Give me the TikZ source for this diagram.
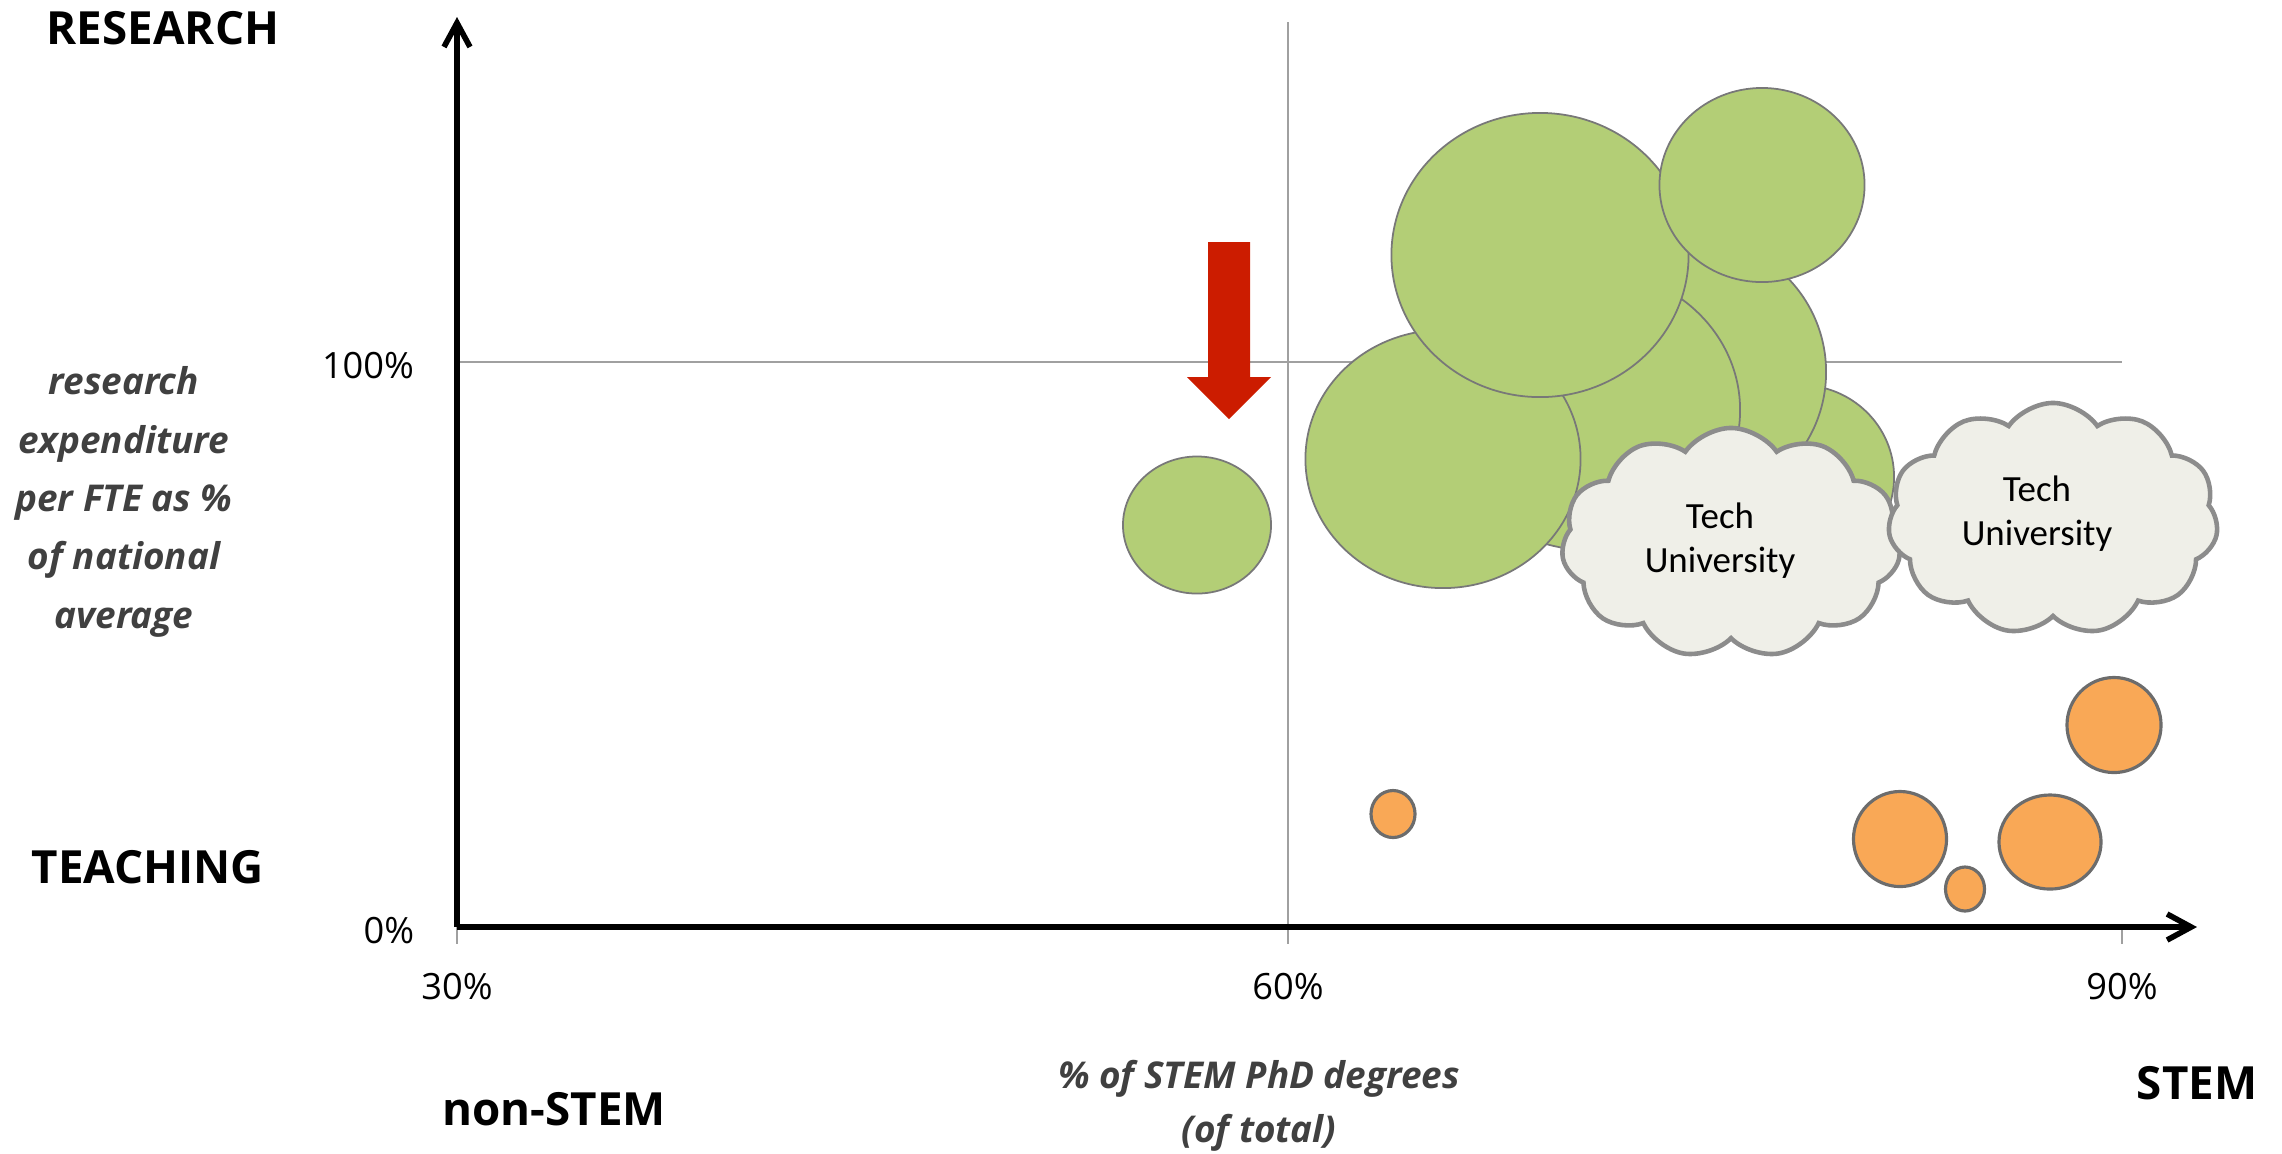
\documentclass[tikz,border=0pt]{standalone}
\usepackage{fontspec}
\setmainfont{Open Sans}
\newfontfamily\cloudfont{Carlito}
\usetikzlibrary{positioning,shapes.geometric,shapes.symbols,arrows.meta}
\definecolor{bubblegreen}{RGB}{179,206,118}
\definecolor{bubbleorange}{RGB}{249,168,86}
\definecolor{bubbleedge}{RGB}{120,120,120}
\definecolor{cloudfill}{RGB}{239,239,232}
\definecolor{cloudedge}{RGB}{140,140,140}
\definecolor{gridgray}{RGB}{160,160,160}
\definecolor{arrowred}{RGB}{204,28,0}
\definecolor{labelgray}{RGB}{64,64,64}
\tikzset{
	bubble chart/.style={
		x=0.01cm,y=-0.01cm, % one unit = one pixel of the slide
		axis line/.style={
			line width=1.6pt,
			-{Straight Barb[length=2.4mm,width=2.6mm]}
		},
		grid line/.style={gridgray,line width=0.6pt},
		tick mark/.style={gridgray,line width=0.5pt}
	},
	bubble/.style 2 args={
		ellipse,
		draw=bubbleedge,
		line width=0.5pt,
		inner sep=0pt,
		minimum width=#1,
		minimum height=#2
	},
	green bubble/.style 2 args={
		bubble={#1}{#2},
		fill=bubblegreen
	},
	orange bubble/.style 2 args={
		bubble={#1}{#2},
		fill=bubbleorange,
		line width=0.9pt,
		draw=bubbleedge!90!black
	},
	tech cloud/.style={
		cloud,
		cloud puffs=11,
		cloud puff arc=110,
		cloud ignores aspect,
		draw=cloudedge,
		fill=cloudfill,
		line width=1.3pt,
		minimum width=3.3cm,
		minimum height=2.2cm
	},
	cloud text/.style={
		inner sep=0pt,
		align=center,
		font=\cloudfont\fontsize{10.5}{12.5}\selectfont
	},
	axis title/.style={
		inner sep=0pt,
		font=\fontsize{13}{15}\selectfont\bfseries
	},
	axis caption/.style={
		inner sep=0pt,
		align=center,
		text=labelgray,
		font=\fontsize{10.5}{16.6}\selectfont\bfseries\itshape
	},
	tick label/.style={
		inner sep=0pt,
		font=\fontsize{10.3}{12}\selectfont
	}
}

\begin{document}
\begin{tikzpicture}[bubble chart]
	\useasboundingbox (0,0) rectangle (2282,1153);
	\coordinate (origin) at (457,927);
	\coordinate (ytip) at (457,17);
	\coordinate (xtip) at (2197,927);
	\coordinate (grid top) at (1288,22);
	\coordinate (grid bottom) at (1288,944);
	\coordinate (grid left) at (457,362);
	\coordinate (grid right) at (2122,362);
	\coordinate (tick 30) at (457,944);
	\coordinate (tick 90) at (2122,944);

	% grid
	\draw[grid line] (grid top) -- (grid bottom);
	\draw[grid line] (grid left) -- (grid right);
	\draw[tick mark] (origin) -- (tick 30);
	\draw[tick mark] (tick 90) -- (tick 90 |- origin);

	% research universities
	\node[green bubble={1.48cm}{1.37cm}] (lone) at (1197,525) {};
	\node[green bubble={1.88cm}{1.84cm}] (back right) at (1800,477) {};
	\node[green bubble={2.72cm}{2.70cm}] (tall right) at (1690,372) {};
	\node[green bubble={3.00cm}{2.80cm}] (middle) at (1590,410) {};
	\node[green bubble={2.75cm}{2.58cm}] (low left) at (1443,459) {};
	\node[green bubble={2.97cm}{2.84cm}] (top big) at (1540,255) {};
	\node[green bubble={2.05cm}{1.94cm}] (top right) at (1762,185) {};

	% teaching universities
	\node[orange bubble={0.44cm}{0.47cm}] (small) at (1393,814) {};
	\node[orange bubble={0.94cm}{0.95cm}] (high) at (2114,725) {};
	\node[orange bubble={0.93cm}{0.95cm}] (pair left) at (1900,839) {};
	\node[orange bubble={0.39cm}{0.44cm}] (tiny) at (1965,889) {};
	\node[orange bubble={1.02cm}{0.94cm}] (pair right) at (2050,842) {};

	\node[tech cloud,minimum width=3.39cm,minimum height=2.3cm] (tech one) at (1731,543) {};
	\node[cloud text] (tech one label) at (1720,541) {Tech\\University};
	\node[tech cloud,minimum height=2.32cm] (tech two) at (2053,519) {};
	\node[cloud text] (tech two label) at (2037,514) {Tech\\University};

	% marker
	\fill[arrowred] (1208,242) -- (1250,242) -- (1250,377) -- (1271,377)
		-- (1229,419) -- (1187,377) -- (1208,377) -- cycle;

	% axes
	\draw[axis line] (origin) -- (ytip);
	\draw[axis line] (origin) -- (xtip);

	\node[tick label] (pct 100) at (368,366) {100\%};
	\node[tick label] (pct 0) at (389,931) {0\%};
	\node[tick label] (pct 30) at (457,987) {30\%};
	\node[tick label] (pct 60) at (1288,987) {60\%};
	\node[tick label] (pct 90) at (2122,987) {90\%};

	\node[axis title] (research) at (163,28) {RESEARCH};
	\node[axis title] (teaching) at (148,867) {TEACHING};
	\node[axis title] (non stem) at (554,1109) {non-STEM};
	\node[axis title] (stem) at (2197,1083) {STEM};

	\node[axis caption] (y caption) at (124,502) {research\\expenditure\\per FTE as \%\\of national\\average};
	\node[axis caption,font=\fontsize{10.5}{15.4}\selectfont\bfseries\itshape] (x caption) at (1259,1106) {\% of STEM PhD degrees\\(of total)};
\end{tikzpicture}
\end{document}
